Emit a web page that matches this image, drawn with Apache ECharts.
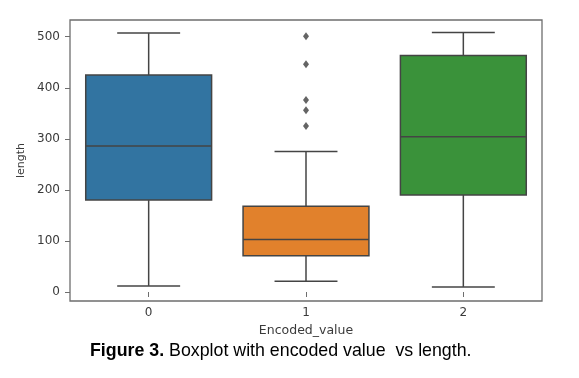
<!DOCTYPE html>
<html><head><meta charset="utf-8">
<script src="https://cdn.jsdelivr.net/npm/echarts@6/dist/echarts.min.js"></script>
<style>html,body{margin:0;padding:0;background:#fff;}#c{width:579px;height:378px;}</style>
</head><body><div id="c"></div>
<script>
const categories = ['0', '1', '2'];
const whiskerLow = [12, 21, 10];
const q1 = [180, 71, 190];
const median = [286, 103, 304];
const q3 = [425, 168, 463];
const whiskerHigh = [507, 275, 508];
const outlierCategory = [1, 1, 1, 1, 1];
const outlierValues = [325, 356, 376, 446, 501];
const yTicks = [0, 100, 200, 300, 400, 500];
const colors = ['#3274a1', '#e1812c', '#3a923a'];

const boxData = categories.map((c, i) => [i, whiskerLow[i], q1[i], median[i], q3[i], whiskerHigh[i]]);
const outlierData = outlierValues.map((v, i) => [outlierCategory[i], v]);
const lineColor = '#444';

const chart = echarts.init(document.getElementById('c'), null, {renderer: 'canvas'});
chart.setOption({
  animation: false,
  grid: {left: 70, top: 20, right: 37, bottom: 77, show: true, borderColor: '#6e6e6e', borderWidth: 1.3, backgroundColor: 'transparent'},
  xAxis: {
    type: 'category', data: categories, boundaryGap: true,
    name: 'Encoded_value', nameLocation: 'middle', nameGap: 23,
    nameTextStyle: {color: '#3a3a3a', fontSize: 12.5, fontFamily: 'DejaVu Sans'},
    axisLine: {show: false},
    axisTick: {show: true, alignWithLabel: true, length: 5, lineStyle: {color: '#6e6e6e'}},
    axisLabel: {color: '#3a3a3a', fontSize: 12, fontFamily: 'DejaVu Sans', margin: 6},
    splitLine: {show: false}
  },
  yAxis: {
    type: 'value', min: -17.6, max: 532.7,
    name: 'length', nameLocation: 'middle', nameGap: 42, nameRotate: 90,
    nameTextStyle: {color: '#3a3a3a', fontSize: 11, fontFamily: 'DejaVu Sans'},
    axisLine: {show: false},
    axisTick: {show: true, length: 5, lineStyle: {color: '#6e6e6e'}, customValues: yTicks},
    axisLabel: {color: '#3a3a3a', fontSize: 12, fontFamily: 'DejaVu Sans', margin: 10, customValues: yTicks},
    splitLine: {show: false}
  },
  series: [
    {
      type: 'custom',
      data: boxData,
      encode: {x: 0, y: [1, 2, 3, 4, 5]},
      renderItem: function (params, api) {
        const i = api.value(0);
        const band = api.size([1, 0])[0];
        const bw = band * 0.8, cw = band * 0.4;
        const pLow = api.coord([i, api.value(1)]);
        const pQ1 = api.coord([i, api.value(2)]);
        const pMed = api.coord([i, api.value(3)]);
        const pQ3 = api.coord([i, api.value(4)]);
        const pHigh = api.coord([i, api.value(5)]);
        const x = pMed[0];
        const ls = {stroke: lineColor, lineWidth: 1.5};
        return {
          type: 'group',
          children: [
            {type: 'line', shape: {x1: x, y1: pLow[1], x2: x, y2: pQ1[1]}, style: ls},
            {type: 'line', shape: {x1: x, y1: pQ3[1], x2: x, y2: pHigh[1]}, style: ls},
            {type: 'line', shape: {x1: x - cw / 2, y1: pLow[1], x2: x + cw / 2, y2: pLow[1]}, style: ls},
            {type: 'line', shape: {x1: x - cw / 2, y1: pHigh[1], x2: x + cw / 2, y2: pHigh[1]}, style: ls},
            {type: 'rect', shape: {x: x - bw / 2, y: pQ3[1], width: bw, height: pQ1[1] - pQ3[1]},
              style: {fill: colors[i], stroke: lineColor, lineWidth: 1.5}},
            {type: 'line', shape: {x1: x - bw / 2, y1: pMed[1], x2: x + bw / 2, y2: pMed[1]}, style: ls}
          ]
        };
      }
    },
    {
      type: 'scatter',
      data: outlierData,
      symbol: 'diamond',
      symbolSize: [6, 8],
      itemStyle: {color: '#3d3d3d'}
    }
  ],
  graphic: [
    {
      type: 'text', left: 90, top: 342,
      style: {
        rich: {
          b: {fontWeight: 'bold', fontSize: 17.8, fontFamily: 'Liberation Sans', fill: '#000'},
          n: {fontSize: 17.8, fontFamily: 'Liberation Sans', fill: '#000'}
        },
        text: '{b|Figure 3.}{n| Boxplot with encoded value  vs length.}'
      }
    }
  ]
});
</script></body></html>
